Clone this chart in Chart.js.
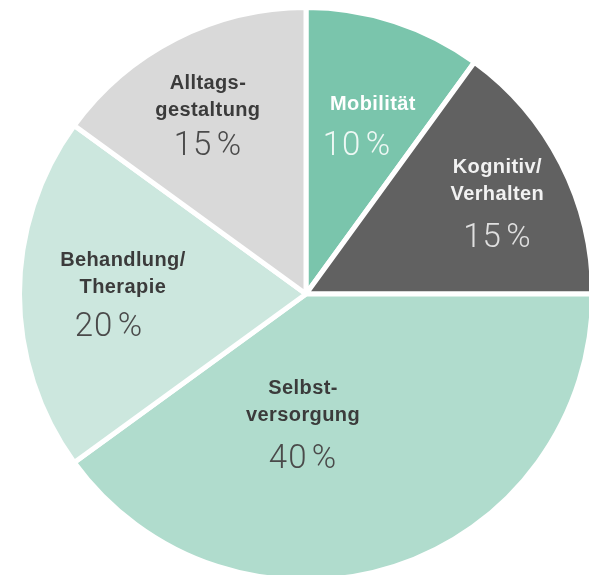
<!DOCTYPE html>
<html>
<head>
<meta charset="utf-8">
<script src="https://cdn.jsdelivr.net/npm/chart.js@4"></script>
<style>
  html, body { margin: 0; padding: 0; background: #fff; overflow: hidden; }
  body { width: 589px; height: 575px; position: relative; }
  #wrap { position: absolute; left: 6px; top: -6px; width: 600px; height: 600px; }
</style>
</head>
<body>
<div id="wrap"><canvas id="pieChart" width="600" height="600"></canvas></div>
<script>
// Daten (im Uhrzeigersinn ab 12 Uhr)
var categories = ['Mobilität', 'Kognitiv/Verhalten', 'Selbstversorgung', 'Behandlung/Therapie', 'Alltagsgestaltung'];
var labelLines = [['Mobilität'], ['Kognitiv/', 'Verhalten'], ['Selbst-', 'versorgung'], ['Behandlung/', 'Therapie'], ['Alltags-', 'gestaltung']];
var shares = [10, 15, 40, 20, 15];
var sliceColors = ['#7ac5ac', '#616161', '#b0dccd', '#cce7de', '#d9d9d9'];

// Textfarben je Segment
var labelColors = ['#ffffff', '#f2f2f2', '#3b3b3b', '#3b3b3b', '#3b3b3b'];
var pctColors = ['#eef8f4', '#e0e0e0', '#4a4a4a', '#4a4a4a', '#4a4a4a'];

// Plugin für die Beschriftung in den Segmenten
var sliceLabels = {
    id: 'sliceLabels',
    afterDatasetsDraw: function(chart, args, opts) {
        var ctx = chart.ctx;
        var meta = chart.getDatasetMeta(0);
        meta.data.forEach(function(arc, i) {
            var a = opts.anchors[i];
            var r = arc.outerRadius * a.r;
            var rad = a.angle * Math.PI / 180;
            var x = arc.x + Math.sin(rad) * r;
            var y = arc.y - Math.cos(rad) * r;
            ctx.save();
            ctx.textAlign = 'center';
            ctx.textBaseline = 'middle';
            ctx.fillStyle = labelColors[i];
            ctx.font = 'bold 20px "Liberation Sans", Arial, sans-serif';
            ctx.letterSpacing = '0.4px';
            labelLines[i].forEach(function(line, k) {
                ctx.fillText(line, x, y + k * 27);
            });
            var py = y + (labelLines[i].length - 1) * 27 + a.gap;
            ctx.fillStyle = pctColors[i];
            ctx.font = '300 33px Roboto, "Noto Sans", sans-serif';
            ctx.letterSpacing = '1px';
            ctx.fillText(shares[i] + '\u200A%', x + a.dx, py);
            ctx.restore();
        });
    }
};

var ctx = document.getElementById('pieChart').getContext('2d');
var myChart = new Chart(ctx, {
    type: 'pie',
    data: {
        labels: categories,
        datasets: [{
            data: shares,
            backgroundColor: sliceColors,
            borderColor: '#ffffff',
            borderWidth: 5
        }]
    },
    options: {
        responsive: false,
        animation: false,
        layout: { padding: 11 },
        plugins: {
            legend: { display: false },
            tooltip: { enabled: false },
            sliceLabels: {
                anchors: [
                    { angle: 19.5, r: 0.70, gap: 42, dx: -16 },
                    { angle: 56.6, r: 0.80, gap: 44, dx: 0 },
                    { angle: 181.8, r: 0.33, gap: 44, dx: 0 },
                    { angle: 280.5, r: 0.65, gap: 41, dx: -14 },
                    { angle: 335, r: 0.81, gap: 36, dx: 0 }
                ]
            }
        }
    },
    plugins: [sliceLabels]
});
</script>
</body>
</html>
